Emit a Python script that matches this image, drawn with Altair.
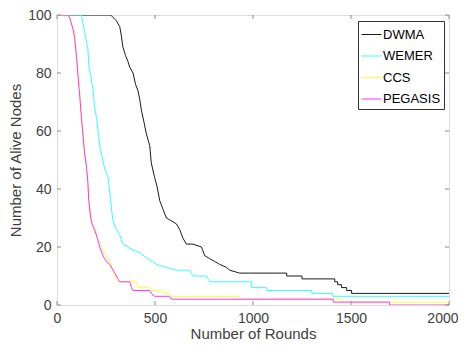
import altair as alt
import pandas as pd

series_names = ["DWMA", "WEMER", "CCS", "PEGASIS"]
series_colors = ["#1a1a1a", "#33ffff", "#ffff33", "#ff33ff"]

dwma_rounds = [0, 274, 303, 320, 328, 336, 350, 362, 371, 388, 401, 413, 422, 431, 444, 456, 473,
               481, 498, 510, 524, 541, 558, 584, 609, 626, 643, 660, 694, 737, 754, 779, 805, 830,
               864, 881, 932, 983, 1172, 1172, 1250, 1250, 1417, 1417, 1432, 1432, 1452, 1452, 1478,
               1478, 1503, 1503, 1519, 2000]
dwma_nodes = [100, 100, 98, 96, 93, 89, 86, 84, 82, 80, 76, 74, 71, 67, 63, 59, 55,
              49, 44, 41, 36, 33, 30, 29, 28, 26, 23, 21, 21, 20, 17, 16, 15, 14,
              13, 12, 11, 11, 11, 10, 10, 9, 9, 8, 8, 7, 7, 6, 6,
              5, 5, 4, 4, 4]

wemer_rounds = [0, 124, 133, 141, 150, 158, 163, 172, 184, 192, 201, 209, 218, 227, 243, 260, 269,
                278, 286, 303, 320, 337, 362, 388, 422, 464, 507, 558, 609, 677, 694, 762, 779,
                993, 993, 1070, 1070, 1300, 1300, 1407, 1407, 2000]
wemer_nodes = [100, 100, 97, 94, 91, 88, 82, 79, 74, 68, 65, 60, 55, 52, 47, 44, 39,
               33, 29, 26, 24, 21, 20, 19, 18, 16, 14, 13, 12, 12, 10, 10, 8,
               8, 6, 6, 5, 5, 4, 4, 3, 3]

ccs_rounds = [0, 56, 66, 84, 92, 101, 109, 118, 126, 135, 143, 150, 158, 167, 175, 184, 201, 209,
              218, 235, 252, 269, 286, 303, 311, 405, 413, 473, 481, 532, 541, 575, 584, 932, 932,
              1452, 1452, 2000]
ccs_nodes = [100, 100, 99, 95, 92, 85, 79, 72, 65, 58, 52, 48, 39, 34, 30, 26, 24, 22,
             21, 19, 17, 15, 12, 9, 8, 8, 6, 6, 5, 5, 4, 4, 3, 3, 2,
             2, 1, 1]

pegasis_rounds = [0, 56, 65, 82, 90, 99, 107, 116, 124, 133, 141, 150, 158, 162, 172, 179, 192, 206,
                  218, 235, 243, 252, 269, 286, 294, 303, 311, 320, 371, 380, 388, 473, 481, 498,
                  575, 584, 1409, 1409, 1697, 1697, 2000]
pegasis_nodes = [100, 100, 99, 95, 92, 86, 79, 72, 65, 58, 52, 48, 42, 36, 30, 28, 26, 23,
                 20, 17, 16, 15, 14, 12, 11, 10, 9, 8, 8, 6, 5, 5, 4, 3,
                 3, 2, 2, 1, 1, 0, 0]

x_ticks = [0, 500, 1000, 1500, 2000]
y_ticks = [0, 20, 40, 60, 80, 100]

rows = []
for name, rr, nn in [("DWMA", dwma_rounds, dwma_nodes), ("WEMER", wemer_rounds, wemer_nodes),
                     ("CCS", ccs_rounds, ccs_nodes), ("PEGASIS", pegasis_rounds, pegasis_nodes)]:
    for i, (r, n) in enumerate(zip(rr, nn)):
        rows.append({"series": name, "round": r, "nodes": n, "i": i})
df = pd.DataFrame(rows)

W, H = 392, 290
FONT = "Liberation Sans"
AX = "#8a8a8a"

xs = alt.Scale(domain=[0, 2000], nice=False, zero=False)
ys = alt.Scale(domain=[0, 100], nice=False, zero=False)

last_x = "datum.value == 2000"

lines = alt.Chart(df).mark_line(strokeWidth=1, clip=True).encode(
    x=alt.X("round:Q", scale=xs,
            axis=alt.Axis(values=x_ticks, format="d", title="Number of Rounds", grid=False, ticks=False,
                          domain=False, labelFlush=False, labelFont=FONT, labelFontSize=14,
                          labelAlign={"condition": {"test": last_x, "value": "right"}, "value": "center"},
                          labelOffset={"condition": {"test": last_x, "value": 9}, "value": 0},
                          labelColor="#404040", labelPadding=6, titleFont=FONT, titleFontSize=15,
                          titleFontWeight="normal", titleColor="#404040", titlePadding=1)),
    y=alt.Y("nodes:Q", scale=ys,
            axis=alt.Axis(values=y_ticks, format="d", title="Number of Alive Nodes", grid=False, ticks=False,
                          domain=False, labelFlush=False, labelFont=FONT, labelFontSize=14,
                          labelColor="#404040", labelPadding=6, titleFont=FONT, titleFontSize=15,
                          titleFontWeight="normal", titleColor="#404040", titlePadding=4)),
    color=alt.Color("series:N", sort=series_names,
                    scale=alt.Scale(domain=series_names, range=series_colors),
                    legend=alt.Legend(orient="none", legendX=301, legendY=6, title=None,
                                      symbolType="stroke", symbolSize=400, symbolStrokeWidth=1,
                                      labelFont=FONT, labelFontSize=13, labelColor="black",
                                      labelOffset=1, padding=3, rowPadding=3.5,
                                      strokeColor="#333333", fillColor="white")),
    detail="series:N",
    order="i:Q",
)

xt = pd.DataFrame({"v": x_ticks})
yt = pd.DataFrame({"v": y_ticks})
xsc = alt.X("v:Q", scale=xs)
ysc = alt.Y("v:Q", scale=ys)
tick_style = dict(color=AX, strokeWidth=1)
xb = alt.Chart(xt).mark_rule(**tick_style).encode(x=xsc, y=alt.value(H), y2=alt.value(H - 4))
xtp = alt.Chart(xt).mark_rule(**tick_style).encode(x=xsc, y=alt.value(0), y2=alt.value(4))
yl = alt.Chart(yt).mark_rule(**tick_style).encode(y=ysc, x=alt.value(0), x2=alt.value(4))
yr = alt.Chart(yt).mark_rule(**tick_style).encode(y=ysc, x=alt.value(W), x2=alt.value(W - 4))

chart = alt.layer(xb, xtp, yl, yr, lines).properties(
    width=W, height=H,
    autosize=alt.AutoSizeParams(type="none"),
    padding={"left": 49, "top": 7, "right": 9, "bottom": 36},
).configure_view(stroke=AX, strokeWidth=1).configure(background="white")

chart.save("out.html", embed_options={"renderer": "svg", "actions": False})
